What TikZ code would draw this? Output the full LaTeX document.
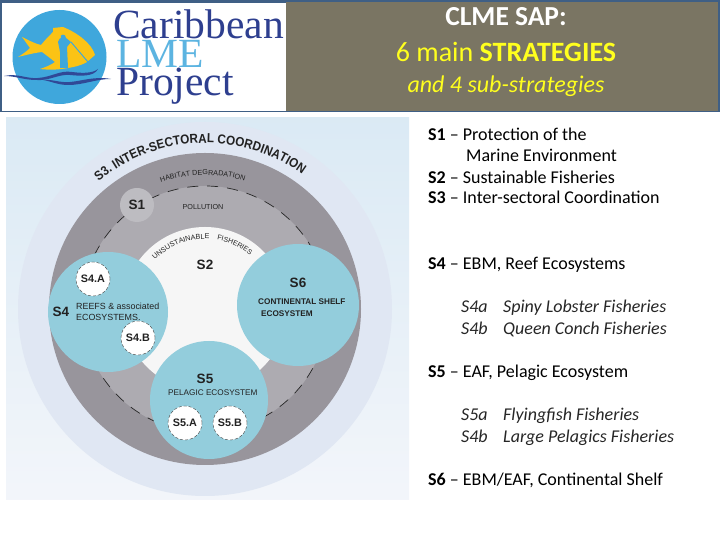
\documentclass[tikz,border=0pt]{standalone}
\usepackage{fontspec}
\setmainfont{Carlito}
\newfontfamily\dgm{Liberation Sans}
\newfontfamily\dgmn[FakeStretch=0.9]{Liberation Sans}
\newfontfamily\lgo{Liberation Serif}
\usetikzlibrary{decorations.text}
\definecolor{hdrbrown}{HTML}{7A7563}
\definecolor{hdrline}{HTML}{3F5F85}
\definecolor{ringlight}{HTML}{E0E7F3}
\definecolor{ringdark}{HTML}{98959C}
\definecolor{ringmid}{HTML}{ADABB1}
\definecolor{corewhite}{HTML}{F6F6F6}
\definecolor{teal}{HTML}{93CDDC}
\definecolor{lgoblue}{HTML}{2E3F8F}
\definecolor{lgosky}{HTML}{3FA7DC}
\definecolor{lgoyel}{HTML}{FBC315}
\definecolor{ttlyel}{HTML}{FFFF1E}
\definecolor{txtdark}{HTML}{222222}
\tikzset{
  x=1pt,y=1pt,
  disc/.style={circle,inner sep=0pt,outer sep=0pt,minimum size=#1},
  subdisc/.style={disc=34pt,fill=white,draw=black!75,densely dashed,line width=.4pt,
     font=\dgm\bfseries\fontsize{10.8}{10.8}\selectfont,text=txtdark},
  tealdisc/.style={disc=#1,fill=teal},
  side/.style={anchor=base west,inner sep=0pt,font=\fontsize{18}{18}\selectfont,text=black},
  sideit/.style={anchor=base west,inner sep=0pt,font=\itshape\fontsize{18}{18}\selectfont,text=black!85},
  bigl/.style={inner sep=0pt,font=\dgm\bfseries\fontsize{13.5}{13.5}\selectfont,text=txtdark},
  smalll/.style={anchor=base west,inner sep=0pt,font=\dgm\fontsize{8.9}{8.9}\selectfont,text=txtdark},
  ttl/.style={anchor=base,inner sep=0pt},
  lgot/.style={anchor=base west,inner sep=0pt,font=\lgo\fontsize{41.5}{41.5}\selectfont},
}
\begin{document}
\begin{tikzpicture}
\useasboundingbox (0,0) rectangle (720,540);
\fill[white] (0,0) rectangle (720,540);
% header
\fill[hdrline] (0,428) rectangle (720,540);
\fill[hdrbrown] (286,429) rectangle (718,538);
\fill[white] (2,429) rectangle (286,537);
% logo
\node[disc=94pt,fill=lgosky] (logo) at (59.5,483) {};
\begin{scope}[yshift=540pt,yscale=-1]
\fill[lgoyel] (22,37) .. controls (30,41) and (36,44) .. (41,45)
  .. controls (45,40) and (49,36) .. (53,32) -- (53,28) -- (63,27)
  .. controls (78,33) and (92,44) .. (95,55) -- (87,62)
  .. controls (80,66) and (74,67) .. (68,68)
  .. controls (58,70) and (48,70) .. (40,69)
  .. controls (46,67) and (51,65) .. (55,62)
  .. controls (50,58) and (46,55) .. (42,52)
  .. controls (34,53) and (26,55) .. (18,57)
  .. controls (23,54) and (27,51) .. (30,48)
  .. controls (27,44) and (25,41) .. (22,37) -- cycle;
\fill[lgosky] (60,68) -- (60,52) -- (58,42) .. controls (59,39) and (60,38) .. (61,38)
  .. controls (59,34) and (66,33) .. (66,38) -- (71,42) -- (67,47) -- (68,68) -- cycle;
\draw[lgosky,line width=1pt] (71,42) -- (88,62);
\fill[lgoblue!90!lgosky] (4,76) .. controls (18,73) and (26,79) .. (38,78)
  .. controls (52,77) and (60,70) .. (72,72)
  .. controls (80,73) and (92,74) .. (98,69)
  .. controls (94,77) and (80,76) .. (70,75)
  .. controls (58,74) and (50,81) .. (36,80)
  .. controls (24,80) and (16,76) .. (4,76) -- cycle;
\fill[lgoblue!90!lgosky] (43,80) .. controls (52,79) and (60,83) .. (70,82)
  .. controls (82,81) and (95,76) .. (111,79)
  .. controls (95,79) and (84,85) .. (68,85)
  .. controls (58,85) and (50,81) .. (43,80) -- cycle;
\end{scope}
\node[lgot,text=lgosky!85] (lme) at (116,472) {LME};
\node[lgot,text=lgoblue] (car) at (113,501) {Caribbean};
\node[lgot,text=lgoblue] (prj) at (116,444.5) {Project};
% titles
\node[ttl,text=white,font=\bfseries\fontsize{27.5}{27.5}\selectfont] (t1) at (506,514) {CLME SAP:};
\node[ttl,text=ttlyel,font=\fontsize{28}{28}\selectfont] (t2) at (506,478) {6 main \textbf{STRATEGIES}};
\node[ttl,text=ttlyel,font=\itshape\fontsize{24}{24}\selectfont] (t3) at (506,447.5) {and 4 sub-strategies};
% diagram panel
\shade[top color=white!70!cyan!12!ringlight,bottom color=white!60!ringlight] (6,40) rectangle (409,422);
\node[disc=374pt,fill=ringlight] (big) at (205,231) {};
\node[disc=312pt,fill=ringdark] (dark) at (205,231) {};
\node[disc=246pt,fill=ringmid,draw=black!85,dash pattern=on 11pt off 9pt,line width=.7pt] (mid) at (205,231) {};
\node[disc=164pt,fill=corewhite] (core) at (205,231) {};
\node[disc=34pt,fill=ringmid!80!white] (s1) at (137,335) {};
\node[bigl] at (s1.center) {S1};
\path[decorate,decoration={text along path,text align=center,
   text={|\dgmn\bfseries\fontsize{13}{13}\selectfont\color{txtdark}|S3. INTER-SECTORAL COORDINATION}}]
   ([shift={(132:166pt)}]big.center) arc[start angle=132,end angle=52,radius=166pt];
\path[decorate,decoration={text along path,text align=center,
   text={|\dgm\fontsize{7.2}{7.2}\selectfont\color{txtdark}|HABITAT DEGRADATION}}]
   ([shift={(112:134pt)}]big.center) arc[start angle=112,end angle=70,radius=134pt];
\path[decorate,decoration={text along path,text align=center,
   text={|\dgm\fontsize{7.2}{7.2}\selectfont\color{txtdark}|UNSUSTAINABLE}}]
   ([shift={(141:70pt)}]big.center) arc[start angle=141,end angle=81,radius=70pt];
\path[decorate,decoration={text along path,text align=center,
   text={|\dgm\fontsize{7}{7}\selectfont\color{txtdark}|FISHERIES}}]
   ([shift={(88:70pt)}]big.center) arc[start angle=88,end angle=42,radius=70pt];
\node[inner sep=0pt,font=\dgm\fontsize{7.2}{7.2}\selectfont,text=txtdark] (pol) at (203,333) {POLLUTION};
\node[bigl] (s2) at (205,275) {S2};
% S4
\node[tealdisc=120pt] (s4) at (108,228) {};
\node[subdisc] (s4a) at (93,261) {S4.A};
\node[subdisc] (s4b) at (138,202) {S4.B};
\node[bigl] at (61,228) {S4};
\node[smalll] at (76,230) {REEFS \& associated};
\node[smalll] at (76,219) {ECOSYSTEMS.};
% S6
\node[tealdisc=122pt] (s6) at (298,235) {};
\node[bigl] at (298,257) {S6};
\node[smalll,font=\dgm\bfseries\fontsize{8.2}{8.2}\selectfont] at (258,235) {CONTINENTAL SHELF};
\node[smalll,font=\dgm\bfseries\fontsize{8.2}{8.2}\selectfont] at (261,223) {ECOSYSTEM};
% S5
\node[tealdisc=118pt] (s5) at (209,140) {};
\node[subdisc] (s5a) at (185,117) {S5.A};
\node[subdisc] (s5b) at (230,117) {S5.B};
\node[bigl] at (205,161) {S5};
\node[smalll,font=\dgm\fontsize{8.2}{8.2}\selectfont] at (168,144) {PELAGIC ECOSYSTEM};
% side text
\node[side] at (428,399) {\textbf{S1} – Protection of the};
\node[side] at (466,378) {Marine Environment};
\node[side] at (428,356) {\textbf{S2} – Sustainable Fisheries};
\node[side] at (428,336) {\textbf{S3} – Inter-sectoral Coordination};
\node[side] at (428,270) {\textbf{S4} – EBM, Reef Ecosystems};
\node[sideit] at (461,227) {S4a};
\node[sideit] at (503,227) {Spiny Lobster Fisheries};
\node[sideit] at (461,205) {S4b};
\node[sideit] at (503,205) {Queen Conch Fisheries};
\node[side] at (428,162) {\textbf{S5} – EAF, Pelagic Ecosystem};
\node[sideit] at (461,119) {S5a};
\node[sideit] at (503,119) {Flyingfish Fisheries};
\node[sideit] at (461,97) {S4b};
\node[sideit] at (503,97) {Large Pelagics Fisheries};
\node[side] at (428,54) {\textbf{S6} – EBM/EAF, Continental Shelf};
\end{tikzpicture}
\end{document}
